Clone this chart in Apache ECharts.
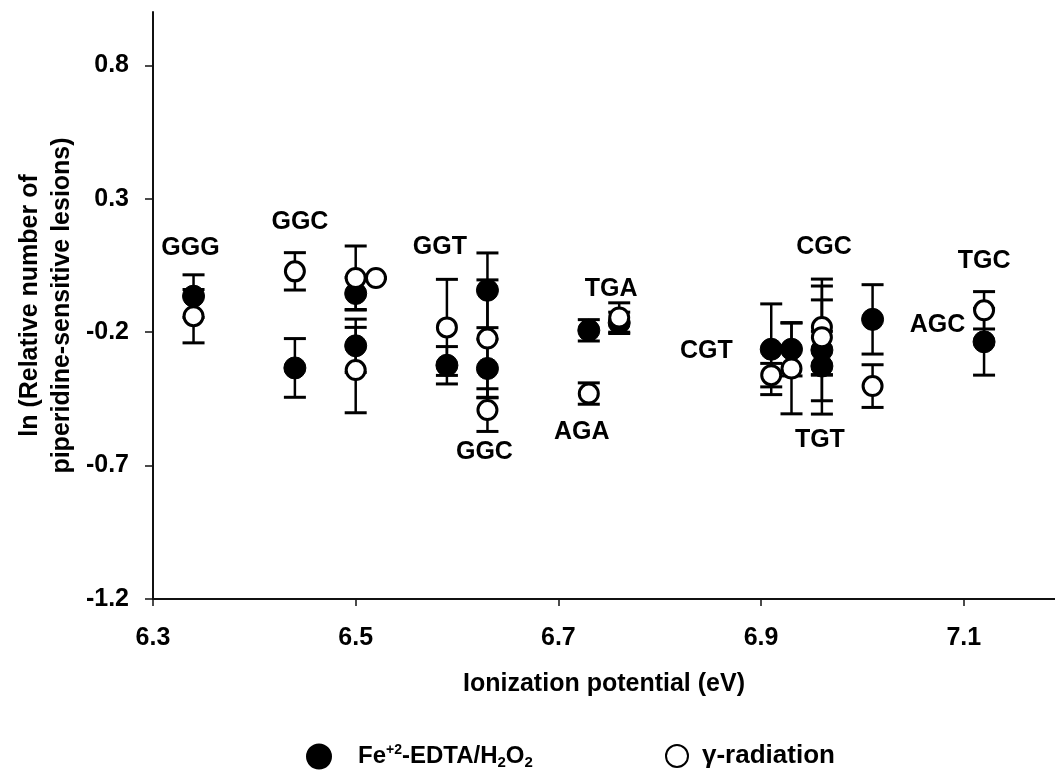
<!DOCTYPE html>
<html>
<head>
<meta charset="utf-8">
<script src="https://cdn.jsdelivr.net/npm/echarts@6/dist/echarts.min.js"></script>
<style>
  html, body { margin: 0; padding: 0; background: #fff; }
  #chart { width: 1055px; height: 777px; }
</style>
</head>
<body>
<div id="chart"></div>
<script>
// Fe+2-EDTA/H2O2 (filled circles)
const ipFilled = [6.34, 6.44, 6.50, 6.50, 6.59, 6.63, 6.63, 6.73, 6.76, 6.91, 6.93, 6.96, 6.96, 7.01, 7.12];
const lnFilled = [-0.065, -0.334, -0.055, -0.251, -0.324, -0.043, -0.336, -0.193, -0.165, -0.264, -0.264, -0.267, -0.327, -0.152, -0.236];
const errFilled = [0.08, 0.11, 0.06, 0.10, 0.07, 0.14, 0.11, 0.04, 0.04, 0.17, 0.10, 0.24, 0.13, 0.13, 0.125];

// gamma-radiation (open circles)
const ipOpen = [6.34, 6.44, 6.50, 6.52, 6.50, 6.59, 6.63, 6.63, 6.73, 6.76, 6.91, 6.93, 6.96, 6.96, 7.01, 7.12];
const lnOpen = [-0.14, 0.028, 0.003, 0.003, -0.342, -0.182, -0.224, -0.492, -0.43, -0.145, -0.361, -0.336, -0.181, -0.219, -0.402, -0.118];
const errOpen = [0.10, 0.07, 0.12, 0, 0.16, 0.18, 0.22, 0.08, 0.04, 0.055, 0.044, 0.17, 0.18, 0.14, 0.08, 0.07];

// sequence labels
const seqNames = ['GGG', 'GGC', 'GGT', 'GGC', 'TGA', 'AGA', 'CGT', 'CGC', 'TGT', 'AGC', 'TGC'];
const seqX = [6.337, 6.445, 6.583, 6.627, 6.752, 6.723, 6.846, 6.962, 6.958, 7.074, 7.12];
const seqY = [0.115, 0.212, 0.118, -0.649, -0.039, -0.575, -0.271, 0.118, -0.605, -0.174, 0.066];

const xTicks = [6.3, 6.5, 6.7, 6.9, 7.1];
const yTicks = [-1.2, -0.7, -0.2, 0.3, 0.8];

const FONT = '"Liberation Sans", Arial, sans-serif';

const chart = echarts.init(document.getElementById('chart'));

function errorBars(xs, ys, es) {
  return xs.map((x, i) => [x, ys[i] - es[i], ys[i] + es[i]]);
}

function renderErr(params, api) {
  const x = api.value(0);
  const lo = api.coord([x, api.value(1)]);
  const hi = api.coord([x, api.value(2)]);
  const half = 11;
  const style = { stroke: '#000', lineWidth: 3 };
  return {
    type: 'group',
    children: [
      { type: 'line', shape: { x1: lo[0], y1: lo[1], x2: hi[0], y2: hi[1] }, style: { stroke: '#000', lineWidth: 2.5 } },
      { type: 'line', shape: { x1: lo[0] - half, y1: lo[1], x2: lo[0] + half, y2: lo[1] }, style },
      { type: 'line', shape: { x1: hi[0] - half, y1: hi[1], x2: hi[0] + half, y2: hi[1] }, style }
    ]
  };
}

const legendText = {
  fontFamily: FONT, fontWeight: 'bold', fontSize: 24, color: '#000',
  rich: {
    b: { fontFamily: FONT, fontWeight: 'bold', fontSize: 24, color: '#000' },
    p: { fontFamily: FONT, fontWeight: 'bold', fontSize: 24, color: '#000', padding: [0, 0, 0, 22] },
    p2: { fontFamily: FONT, fontWeight: 'bold', fontSize: 26, color: '#000', padding: [0, 0, 0, 9] },
    sup: { fontFamily: FONT, fontWeight: 'bold', fontSize: 14, color: '#000', verticalAlign: 'top', padding: [0, 0, 10, 0] },
    sub: { fontFamily: FONT, fontWeight: 'bold', fontSize: 15, color: '#000', verticalAlign: 'bottom', padding: [12, 0, 0, 0] }
  }
};

const option = {
  animation: false,
  backgroundColor: '#fff',
  textStyle: { fontFamily: FONT, fontWeight: 'bold', color: '#000' },
  grid: { left: 153, right: 0, top: 12, bottom: 178 },
  legend: [
    {
      left: 301,
      bottom: 2,
      itemWidth: 24,
      itemHeight: 24,
      data: ['Fe'],
      textStyle: legendText,
      formatter: () => '{p|Fe}{sup|+2}{b|-EDTA/H}{sub|2}{b|O}{sub|2}'
    },
    {
      left: 660,
      bottom: 3,
      itemWidth: 22,
      itemHeight: 22,
      data: ['gamma'],
      textStyle: legendText,
      formatter: () => '{p2|γ-radiation}'
    }
  ],
  xAxis: {
    type: 'value',
    min: 6.3,
    max: 7.19,
    name: 'Ionization potential (eV)',
    nameLocation: 'middle',
    nameGap: 73,
    nameTextStyle: { fontFamily: FONT, fontWeight: 'bold', fontSize: 25, color: '#000' },
    splitLine: { show: false },
    axisLine: { onZero: false, lineStyle: { color: '#111', width: 2 } },
    axisTick: { customValues: xTicks, length: 7, lineStyle: { color: '#111', width: 1.5 } },
    axisLabel: {
      customValues: xTicks,
      margin: 27,
      fontFamily: FONT, fontWeight: 'bold', fontSize: 25, color: '#000',
      formatter: (v) => v.toFixed(1)
    }
  },
  yAxis: {
    type: 'value',
    min: -1.2,
    max: 1.0,
    name: 'ln (Relative number of\npiperidine-sensitive lesions)',
    nameLocation: 'middle',
    nameGap: 75,
    nameMoveOverlap: false,
    nameTextStyle: { fontFamily: FONT, fontWeight: 'bold', fontSize: 25, color: '#000', lineHeight: 32 },
    splitLine: { show: false },
    axisLine: { onZero: false, lineStyle: { color: '#111', width: 2 } },
    axisTick: { customValues: yTicks, length: 8, lineStyle: { color: '#111', width: 1.5 } },
    axisLabel: {
      customValues: yTicks,
      margin: 24,
      fontFamily: FONT, fontWeight: 'bold', fontSize: 25, color: '#000',
      formatter: (v) => v.toFixed(1)
    }
  },
  series: [
    {
      type: 'custom',
      name: 'errFe',
      renderItem: renderErr,
      data: errorBars(ipFilled, lnFilled, errFilled),
      z: 1,
      silent: true
    },
    {
      type: 'custom',
      name: 'errGamma',
      renderItem: renderErr,
      data: errorBars(ipOpen, lnOpen, errOpen),
      z: 1,
      silent: true
    },
    {
      type: 'scatter',
      name: 'Fe',
      symbol: 'circle',
      symbolSize: 22,
      itemStyle: { color: '#000', borderColor: '#000', borderWidth: 1, opacity: 1 },
      data: ipFilled.map((x, i) => [x, lnFilled[i]]),
      z: 3
    },
    {
      type: 'scatter',
      name: 'gamma',
      symbol: 'circle',
      symbolSize: 19,
      itemStyle: { color: '#fff', borderColor: '#000', borderWidth: 3, opacity: 1 },
      data: ipOpen.map((x, i) => [x, lnOpen[i]]),
      z: 4
    },
    {
      type: 'scatter',
      name: 'labels',
      symbolSize: 0,
      silent: true,
      itemStyle: { opacity: 1, color: '#000' },
      label: {
        show: true,
        position: 'inside',
        formatter: (p) => p.name,
        fontFamily: FONT, fontWeight: 'bold', fontSize: 25, color: '#000',
        textBorderWidth: 0
      },
      data: seqNames.map((n, i) => ({ name: n, value: [seqX[i], seqY[i]] })),
      z: 5
    }
  ]
};

chart.setOption(option);
</script>
</body>
</html>
